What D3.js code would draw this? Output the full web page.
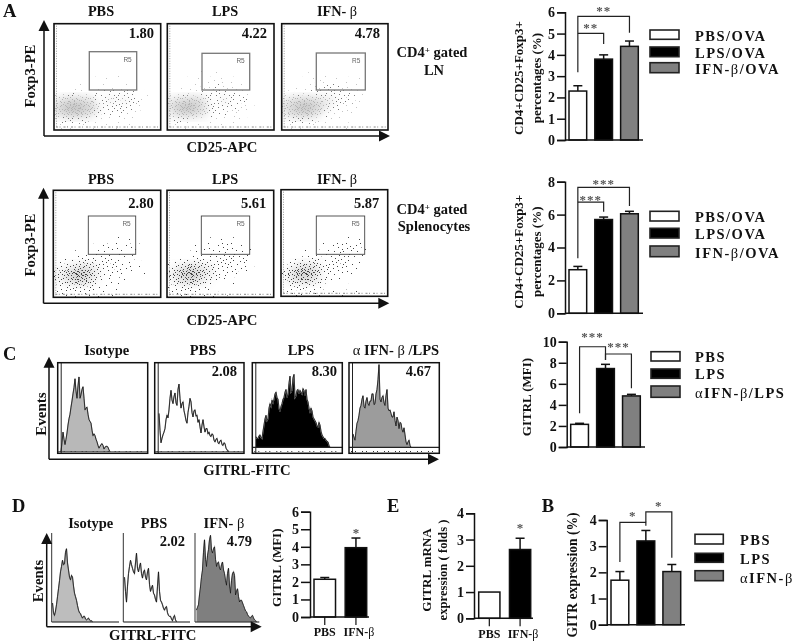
<!DOCTYPE html>
<html><head><meta charset="utf-8">
<script src="https://cdn.jsdelivr.net/npm/d3@7"></script>
<style>html,body{margin:0;padding:0;background:#fff}svg{display:block;filter:blur(.3px)}text{font-family:"Liberation Serif",serif;font-weight:bold;fill:#111}</style>
</head><body><svg id="c" width="794" height="643"></svg>
<script>
// ---------- DATA ----------
const ovaLegend = ["PBS/OVA","LPS/OVA","IFN-β/OVA"];
const mfiLegend = ["PBS","LPS","αIFN-β/LPS"];
const gitrLegend = ["PBS","LPS","αIFN-β"];
const twoCats = ["PBS","IFN-β"];

const lnMeans = [2.3,3.8,4.4],   lnTops = [2.55,4.0,4.65];
const splMeans = [2.65,5.7,6.05], splTops = [2.85,5.85,6.2];
const mfiMeans = [2.15,7.45,4.85], mfiTops = [2.25,7.85,5.0];
const gitrMeans = [1.7,3.2,2.03], gitrTops = [2.03,3.6,2.3];
const dMeans = [2.15,3.95], dTops = [2.25,4.5];
const eMeans = [1.0,2.62], eTops = [1.0,3.05];

const lnTicks=[0,1,2,3,4,5,6], splTicks=[0,2,4,6,8], mfiTicks=[0,2,4,6,8,10], gitrTicks=[0,1,2,3,4], dTicks=[0,1,2,3,4,5,6], eTicks=[0,1,2,3,4];

// brackets: from category, to category, top value, left end value, right end value, stars, star value
const lnBrackets=[[0,2,5.81,3.18,5.04,"**",6.1],[0,1,5.01,5.01,4.51,"**",5.31]];
const splBrackets=[[0,2,7.66,3.34,6.52,"***",7.9],[0,1,6.76,6.76,6.18,"***",6.93]];
const mfiBrackets=[[0,1,9.52,3.2,8.26,"***",10.57],[1,2,8.83,8.26,5.57,"***",9.6]];
const gitrBrackets=[[0,1,3.91,2.4,3.78,"*",4.18],[1,2,4.31,3.91,2.56,"*",4.56]];

const ovaTitle=["CD4+CD25+Foxp3+","percentages (%)"];

const flowValuesLN=["1.80","4.22","4.78"], flowValuesSpl=["2.80","5.61","5.87"];
const flowTitles=["PBS","LPS","IFN- β"];

// event density per cell, lower part of each dot plot (0-9), estimated by eye
const densLN1=["0000000000000000","0000000001000000","0000001100000000","0001001210110000","1232223343432100","5677664454543100","7899875344442100","6788764333321000","2343321212110000","1211110111010000"];
const densLN2=["0000000000000000","0000010100000000","0001111221100000","0011122322210000","1232233433321000","5667754454431000","6899764443321000","5677653332210000","2332211111100000","1110101010100000"];
const densLN3=["0000000000000000","0000101000000000","0001121111110000","0011223332210000","1232344434321000","5677765543321000","6789875432211000","5778753222100000","2344321111000000","1211100101000000"];
const densSp1=["0000000000000000","0000000011010000","0000001122121000","0011112222111000","1223343333221000","3456765443321000","5689975332110100","4578864221100000","2344432111000000","1222211110000000"];
const densSp2=["0000000000000000","0000001121100000","0000112233211000","0011223343321000","1233443444331000","3568765443321000","5799865433110000","4678753211000000","2344321100000000","1221111010000000"];
const densSp3=["0000000000000000","0000000001110000","0000001233321000","0001112334321000","0123332443321000","2467754433211000","4799864322110000","3678753111000000","1344320100000000","1222221111110000"];

// histogram heights (% of panel height), one value per channel
const histCIso=[0,10,22,14,8,14,21,30,37,42,50,57,65,72,82,68,60,74,84,60,64,70,73,60,47,49,50,42,36,34,32,24,18,20,18,14,11,7,4,6,8,9,7,3,5,6,6,5,2,0];
const histCPbs=[43,24,10,15,19,22,26,36,41,38,47,60,69,58,54,62,66,55,52,70,76,60,49,54,56,46,41,35,32,44,51,60,56,44,39,46,47,40,41,33,36,28,21,30,36,28,22,26,26,20,22,18,17,20,19,13,11,14,15,10,9,12,13,8,7,10,9,4,2,1,0];
const histCLps=[18,16,16,19,20,17,16,24,31,38,42,36,38,50,55,52,59,56,60,66,68,62,60,50,46,52,55,60,62,68,71,62,66,78,86,68,70,84,88,62,64,70,71,66,70,68,66,72,70,64,71,60,57,50,46,50,47,40,38,36,34,30,29,34,31,24,20,18,16,16,14,13,12,8,5];
const histCAnti=[21,17,14,24,33,36,42,50,53,60,64,52,50,58,62,55,53,58,58,66,66,54,55,66,71,82,99,60,57,62,64,56,53,64,71,50,47,48,44,40,40,46,36,30,40,36,27,34,33,26,23,28,20,12,9,12,14,8,6];
const histDIso=[21,10,7,12,19,28,37,46,56,62,69,64,65,78,82,66,58,50,47,52,50,40,32,28,24,18,13,10,9,6,4,6,6,3,2,3,4,2,1,1,0];
const histDPbs=[50,34,22,40,54,62,69,64,60,56,54,66,77,60,56,62,66,54,49,56,58,50,47,56,60,42,34,38,41,32,30,25,22,40,56,34,24,22,19,15,13,16,17,10,7,6,6,3,1,5,7,2,0];
const histDIfn=[13,16,19,30,39,50,58,78,92,70,62,74,81,92,97,80,77,82,84,70,62,66,67,60,58,64,67,58,54,46,41,54,60,40,32,46,54,56,52,30,34,37,28,22,24,24,21,18,15,12,11,8,6,5,4,6,7,4,2,1,0];

const histTitlesC=["Isotype","PBS","LPS","α IFN- β /LPS"], histValuesC=["","2.08","8.30","4.67"];
const histTitlesD=["Isotype","PBS","IFN- β"], histValuesD=["","2.02","4.79"];

// hand-placed irregular dot tile used to shade the density cells (texture only)
const stippleTile=[[3,7],[17,2],[11,15],[20,19],[6,20],[14,9],[1,13],[9,3],[21,11],[16,17],[4,1],[12,21],[19,6],[7,11],[2,18],[15,13],[10,8],[22,3],[5,16],[18,22],[13,5],[0,9],[8,18],[20,14],[3,3],[16,7],[11,11],[6,14],[21,21],[14,19],[9,22],[1,5],[18,10],[4,12],[12,1],[22,16],[7,6],[15,3],[2,22],[19,17],[10,13],[17,12],[5,8],[13,17],[0,20],[8,0],[21,6],[16,21],[3,15],[11,4],[20,1],[6,3],[14,14],[1,10],[18,18],[9,16],[22,9],[4,19],[12,8],[17,5],[7,21],[15,10],[2,2],[19,13],[10,19],[5,11],[13,22],[21,17],[0,15],[8,7]];

// ---------- LAYOUT ----------
const svg=d3.select("#c");
const defs=svg.append("defs");
defs.append("filter").attr("id","soft").append("feGaussianBlur").attr("stdDeviation",0.3);
const sm=defs.append("filter").attr("id","smooth").attr("x","-20%").attr("y","-20%").attr("width","140%").attr("height","140%");
sm.append("feGaussianBlur").attr("stdDeviation",4);

const tileDots=stippleTile.concat(stippleTile.map(d=>[(d[0]+11)%23,(d[1]+7)%23]));
const levelDots=[0,8,16,26,36,48,62,80,105,135];
function pattern(color,level){
  const id="p"+color.replace("#","")+level, tile=23;
  if(!document.getElementById(id)){
    const p=defs.append("pattern").attr("id",id).attr("width",tile).attr("height",tile).attr("patternUnits","userSpaceOnUse");
    tileDots.slice(0,levelDots[level]).forEach(d=>p.append("rect").attr("x",d[0]).attr("y",d[1]).attr("width",1).attr("height",1).attr("fill",color));
  }
  return `url(#${id})`;
}
function txt(x,y,s,size,anchor="middle",g=svg){
  return g.append("text").attr("x",x).attr("y",y).attr("font-size",size).attr("text-anchor",anchor).text(s);
}
function vtxt(x,y,s,size){
  return svg.append("text").attr("transform",`translate(${x},${y}) rotate(-90)`).attr("font-size",size).attr("text-anchor","middle").text(s);
}
function betaText(x,y,s,size,anchor="middle"){ // Greek letters set in regular weight
  const t=svg.append("text").attr("x",x).attr("y",y).attr("font-size",size).attr("text-anchor",anchor);
  s.split(/([αβ])/).forEach(p=>{ if(p) t.append("tspan").attr("font-weight",/[αβ]/.test(p)?"normal":"bold").text(p); });
  return t;
}
function arrows(x,yBottom,yTop,xRight,headL=11,headW=5.5){
  const g=svg.append("g");
  g.append("line").attr("x1",x).attr("x2",x).attr("y1",yBottom).attr("y2",yTop+headL-1).attr("stroke","#111").attr("stroke-width",1.5);
  g.append("line").attr("x1",x).attr("x2",xRight-headL+1).attr("y1",yBottom).attr("y2",yBottom).attr("stroke","#111").attr("stroke-width",1.5);
  g.append("polygon").attr("points",`${x},${yTop} ${x-headW},${yTop+headL} ${x+headW},${yTop+headL}`).attr("fill","#111");
  g.append("polygon").attr("points",`${xRight},${yBottom} ${xRight-headL},${yBottom-headW} ${xRight-headL},${yBottom+headW}`).attr("fill","#111");
}

// ---------- dot plots ----------
let clipN=0;
function dotPlot(f,dens,value,title,cfg){
  const g=svg.append("g"), id="cl"+(clipN++);
  defs.append("clipPath").attr("id",id).append("rect").attr("x",f.x0).attr("y",f.y0).attr("width",f.x1-f.x0).attr("height",f.y1-f.y0);
  const cols=d3.range(dens[0].length), rows=d3.range(dens.length);
  const x=d3.scaleBand().domain(cols).range([f.x0,f.x1]);
  const y=d3.scaleBand().domain(rows).range([f.y1-x.bandwidth()*dens.length,f.y1]);
  const cells=rows.flatMap(r=>cols.map(c=>({r,c,v:+dens[r][c]}))).filter(d=>d.v>0);
  const layer=g.append("g").attr("clip-path",`url(#${id})`);
  layer.append("g").attr("filter","url(#smooth)").selectAll("rect").data(cells.filter(d=>d.v>=5)).join("rect")
    .attr("x",d=>x(d.c)).attr("y",d=>y(d.r)).attr("width",x.bandwidth()+.5).attr("height",y.bandwidth()+.5)
    .attr("fill",cfg.smooth).attr("opacity",d=>(d.v-3)*cfg.smoothOp);
  layer.append("g").attr("filter","url(#soft)").selectAll("rect").data(cells).join("rect")
    .attr("x",d=>x(d.c)).attr("y",d=>y(d.r)).attr("width",x.bandwidth()+.5).attr("height",y.bandwidth()+.5)
    .attr("fill",d=>pattern(cfg.color(d.v),d.v));
  // acquisition ticks along the panel edges
  g.append("line").attr("x1",f.x0+2).attr("x2",f.x1-2).attr("y1",f.y1-3).attr("y2",f.y1-3).attr("stroke","#888").attr("stroke-dasharray","2 1.5 1 3");
  g.append("line").attr("x1",f.x0+2.5).attr("x2",f.x0+2.5).attr("y1",f.y0+2).attr("y2",f.y1-2).attr("stroke","#999").attr("stroke-dasharray","1 1.5");
  // gate
  g.append("rect").attr("x",f.gx0).attr("y",f.gy0).attr("width",f.gx1-f.gx0).attr("height",f.gy1-f.gy0).attr("fill","none").attr("stroke",cfg.gate).attr("stroke-width",cfg.gateW);
  g.append("text").attr("x",f.gx1-5).attr("y",f.gy0+10).attr("text-anchor","end").attr("font-size",6.5).style("font-family","Liberation Sans").style("font-weight","normal").style("fill","#666").text("R5");
  g.append("rect").attr("x",f.x0).attr("y",f.y0).attr("width",f.x1-f.x0).attr("height",f.y1-f.y0).attr("fill","none").attr("stroke","#111").attr("stroke-width",1.6);
  txt(f.vx,f.vy,value,14.5,"end");
  betaText(f.tx,f.ty,title,14.3);
}
const lnStyle={smooth:"#b0b0b0",smoothOp:.12,gate:"#777",gateW:1.3,color:v=>v<=2?"#c4c4c4":v<=4?"#777777":"#b4b4b4"};
const spStyle={smooth:"#777777",smoothOp:.05,gate:"#444",gateW:.9,color:v=>"#444444"};
[[54,160.7,89.3,136.7,51.7,154,101,densLN1],[167.3,274,202,249.7,53.3,267,225,densLN2],[281.7,388,316.3,365.3,53,380,337,densLN3]].forEach((p,i)=>
  dotPlot({x0:p[0],x1:p[1],y0:23.7,y1:130,gx0:p[2],gx1:p[3],gy0:p[4],gy1:90,vx:p[5],vy:38,tx:p[6],ty:16},p[7],flowValuesLN[i],flowTitles[i],lnStyle));
[[53.3,160.7,88.3,135.7,153.7,101,190.3,297.3,densSp1],[167,273.7,201.3,249.7,266.3,225,190.3,297.3,densSp2],[281,387.7,316.3,364.7,379.3,337,189.7,296.3,densSp3]].forEach((p,i)=>
  dotPlot({x0:p[0],x1:p[1],y0:p[6],y1:p[7],gx0:p[2],gx1:p[3],gy0:216,gy1:254.3,vx:p[4],vy:208,tx:p[5],ty:184},p[8],flowValuesSpl[i],flowTitles[i],spStyle));
arrows(44,136,20,390); arrows(43.5,303.3,187.7,389.3);
vtxt(35,76,"Foxp3-PE",14.7); vtxt(35,245,"Foxp3-PE",14.7);
txt(222,152,"CD25-APC",14.7); txt(222,325,"CD25-APC",14.7);

function gated(y1,y2,line2){
  const t=txt(432,y1,"CD4",14.5);
  t.append("tspan").attr("font-size",9).attr("dy",-4).text("+");
  t.append("tspan").attr("dy",4).text(" gated");
  txt(434,y2,line2,14.5);
}
gated(57.3,75,"LN"); gated(214,230.7,"Splenocytes");

// ---------- histograms ----------
function hist(values,p){
  const g=svg.append("g");
  const x=d3.scaleLinear().domain([0,values.length-1]).range([p.start,p.start+values.length-1]);
  const y=d3.scaleLinear().domain([0,100]).range([p.bottom,p.bottom-p.h]);
  const pts=values.map((v,i)=>[i,Math.max(v,p.base||0)]);
  const body=g.append("g").attr("filter","url(#soft)");
  if(p.fill) body.append("path").attr("d",d3.area().x(d=>x(d[0])).y0(y(p.base||0)).y1(d=>y(d[1]))(pts)).attr("fill",p.fill);
  const ln=d3.line().x(d=>x(d[0])).y(d=>y(d[1]))(pts);
  body.append("path").attr("d",ln).attr("fill","none").attr("stroke","#999").attr("stroke-width",1.2);
  body.append("path").attr("d",ln).attr("fill","none").attr("stroke","#111").attr("stroke-width",.8);
  return y;
}
const cFrames=[[57.7,147.7,61],[154.7,244,159],[252.3,342.3,256],[349,439.3,353]];
const cHists=[histCIso,histCPbs,histCLps,histCAnti], cFill=["#b8b8b8",null,"#000","#9c9c9c"], cBase=[0,0,6,6];
const cTitleX=[106.7,203,301,396], cValueX=[0,237,337,431];
cFrames.forEach((f,i)=>{
  const bottom=i<2?451.7:452.7;
  hist(cHists[i],{start:f[2],bottom,h:89,fill:cFill[i],base:cBase[i]});
  const yb=d3.scaleLinear().domain([0,100]).range([bottom,bottom-89])(cBase[i]);
  svg.append("line").attr("x1",f[0]).attr("x2",f[1]).attr("y1",yb).attr("y2",yb).attr("stroke","#222").attr("stroke-width",i<2?.7:1.2);
  svg.append("line").attr("x1",f[0]+2).attr("x2",f[1]-2).attr("y1",451.5).attr("y2",451.5).attr("stroke","#333").attr("stroke-dasharray","1 3 1 6");
  svg.append("line").attr("x1",f[0]+3.5).attr("x2",f[0]+3.5).attr("y1",362.7).attr("y2",453.3).attr("stroke","#222").attr("stroke-width",1);
  svg.append("rect").attr("x",f[0]).attr("y",362.7).attr("width",f[1]-f[0]).attr("height",90.6).attr("fill","none").attr("stroke","#111").attr("stroke-width",1.5);
  betaText(cTitleX[i],355,histTitlesC[i],14.5);
  if(histValuesC[i]) txt(cValueX[i],376,histValuesC[i],14.5,"end");
});
arrows(49,459.3,356.7,439,11,5.5);
vtxt(46,414,"Events",15);
txt(247,475,"GITRL-FITC",14.7);

const dFrames=[[51.7,119,52.5],[123.3,190,124.5],[195,259.3,196.5]];
const dHists=[histDIso,histDPbs,histDIfn], dFill=["#bdbdbd",null,"#7f7f7f"];
const dTitleX=[90.7,154,224], dValueX=[0,185,252];
dFrames.forEach((f,i)=>{
  hist(dHists[i],{start:f[2],bottom:621.7,h:89,fill:dFill[i]});
  svg.append("line").attr("x1",f[0]).attr("x2",f[1]).attr("y1",622).attr("y2",622).attr("stroke","#111").attr("stroke-width",1.2);
  svg.append("line").attr("x1",f[0]).attr("x2",f[0]).attr("y1",533).attr("y2",622).attr("stroke","#333").attr("stroke-width",1);
  betaText(dTitleX[i],527.7,histTitlesD[i],14.5);
  if(histValuesD[i]) txt(dValueX[i],546,histValuesD[i],14.5,"end");
});
arrows(46.7,626.7,533,261.7,11,5.5);
vtxt(43,581,"Events",14.7);
txt(152.7,640,"GITRL-FITC",14.7);

// ---------- bar charts ----------
const barFills=["#fff","#000","#808080"];
function barChart(o){
  const g=svg.append("g");
  const y=d3.scaleLinear().domain([o.ticks[0],o.ticks[o.ticks.length-1]]).range([o.y0,o.yTop]);
  const x=d3.scaleBand().domain(d3.range(o.means.length)).range(o.xr).paddingInner(o.pad).paddingOuter(0);
  const c=i=>x(i)+x.bandwidth()/2;
  const ax=g.append("g").attr("transform",`translate(${o.ax},0)`).call(d3.axisLeft(y).tickValues(o.ticks).tickSize(o.tick||8).tickPadding(2).tickFormat(d3.format("d")));
  ax.select(".domain").attr("stroke","#111").attr("stroke-width",1.5);
  ax.selectAll(".tick line").attr("stroke","#111").attr("stroke-width",1.5);
  ax.selectAll("text").attr("font-size",o.tickFont||14).style("font-family","Liberation Serif").style("font-weight","bold").attr("fill","#111");
  g.selectAll(".err").data(o.means).join("g").each(function(d,i){
    const e=d3.select(this);
    if(o.tops[i]>d){
      e.append("line").attr("x1",c(i)).attr("x2",c(i)).attr("y1",y(d)).attr("y2",y(o.tops[i])).attr("stroke","#111").attr("stroke-width",1.5);
      e.append("line").attr("x1",c(i)-4.5).attr("x2",c(i)+4.5).attr("y1",y(o.tops[i])).attr("y2",y(o.tops[i])).attr("stroke","#111").attr("stroke-width",1.5);
    }
  });
  g.selectAll(".bar").data(o.means).join("rect").attr("x",(d,i)=>x(i)).attr("width",x.bandwidth()).attr("y",d=>y(d)).attr("height",d=>y(0)-y(d))
    .attr("fill",(d,i)=>barFills[i]).attr("stroke","#111").attr("stroke-width",1.5);
  g.append("line").attr("x1",o.ax).attr("x2",o.baseEnd).attr("y1",y(0)).attr("y2",y(0)).attr("stroke","#111").attr("stroke-width",1.5);
  (o.brackets||[]).forEach(b=>{
    const [a,e,top,l,r,stars,sv]=b;
    g.append("path").attr("d",d3.line()([[c(a),y(l)],[c(a),y(top)],[c(e),y(top)],[c(e),y(r)]])).attr("fill","none").attr("stroke","#222").attr("stroke-width",1.2);
    const st=txt((c(a)+c(e))/2,y(sv)+5,stars,13,"middle",g); st.style("fill","#555").attr("letter-spacing",1);
  });
  if(o.cats) o.cats.forEach((s,i)=>{
    g.append("line").attr("x1",c(i)).attr("x2",c(i)).attr("y1",y(0)).attr("y2",y(0)+8).attr("stroke","#111").attr("stroke-width",1.2);
    const t=txt(c(i)+(i?3:0),o.catY,"",12,"middle",g);
    s.split(/(β)/).forEach(p=>{if(p)t.append("tspan").attr("font-weight",p==="β"?"normal":"bold").text(p);});
  });
  if(o.star!==undefined){ const st=txt(c(1),y(o.star)+5,"*",13,"middle",g); st.style("fill","#555"); }
  if(o.legend) o.legend.forEach((s,i)=>{
    const k=o.legPos[i];
    g.append("rect").attr("x",o.legX).attr("y",k[0]).attr("width",o.legW).attr("height",k[1]-k[0]).attr("fill",barFills[i]).attr("stroke","#222").attr("stroke-width",1.6);
    betaText(o.legT,k[2],s,14.5).attr("text-anchor","start").attr("letter-spacing",1.5);
  });
}
barChart({means:lnMeans,tops:lnTops,ticks:lnTicks,y0:140,yTop:12.3,ax:565,xr:[569,638.3],pad:.315,baseEnd:643,brackets:lnBrackets,
  legend:ovaLegend,legX:650,legW:29,legT:695,legPos:[[30,39.3,40.7],[47,56.7,57.7],[62.7,72.7,74.3]]});
barChart({means:splMeans,tops:splTops,ticks:splTicks,y0:313.3,yTop:181.7,ax:565,xr:[569,638.3],pad:.315,baseEnd:643,brackets:splBrackets,
  legend:ovaLegend,legX:650,legW:29,legT:695,legPos:[[211.3,221,221.7],[228.3,238,239.3],[246,256.7,257.7]]});
barChart({means:mfiMeans,tops:mfiTops,ticks:mfiTicks,y0:447,yTop:341.7,ax:566.7,xr:[570.7,640.3],pad:.315,baseEnd:645,brackets:mfiBrackets,
  legend:mfiLegend,legX:651,legW:29,legT:695,legPos:[[351.7,361,361.7],[369,378.3,379.3],[386,397.3,397.7]]});
barChart({means:gitrMeans,tops:gitrTops,ticks:gitrTicks,y0:624.7,yTop:520,ax:606.7,xr:[611,680.7],pad:.315,baseEnd:685,brackets:gitrBrackets,
  legend:gitrLegend,legX:695,legW:28.3,legT:740,legPos:[[534.3,544,545],[553.3,562.3,564],[570.7,580.7,583.3]]});
barChart({means:dMeans,tops:dTops,ticks:dTicks,y0:617,yTop:511.7,ax:310,xr:[314,366.7],pad:.31,baseEnd:369,cats:twoCats,catY:635.7,star:4.86,tick:9});
barChart({means:eMeans,tops:eTops,ticks:eTicks,y0:618.3,yTop:513.3,ax:474,xr:[478.7,530.7],pad:.31,baseEnd:533,cats:twoCats,catY:638,star:3.49});

vtxt(523,78,ovaTitle[0],13); vtxt(541,78,ovaTitle[1],13);
vtxt(523,251.7,ovaTitle[0],13); vtxt(541,251.7,ovaTitle[1],13);
vtxt(531,397,"GITRL (MFI)",13);
vtxt(281,567.7,"GITRL (MFI)",13);
vtxt(431,570,"GITRL mRNA",13); vtxt(447,570,"expression ( folds )",12.7);
vtxt(577,575,"GITR expression (%)",13.6);

// ---------- panel letters ----------
[["A",3,17],["C",3,360],["D",12,511.7],["E",387,511.7],["B",541.7,511.7]].forEach(d=>txt(d[1],d[2],d[0],18.5,"start"));
</script></body></html>
